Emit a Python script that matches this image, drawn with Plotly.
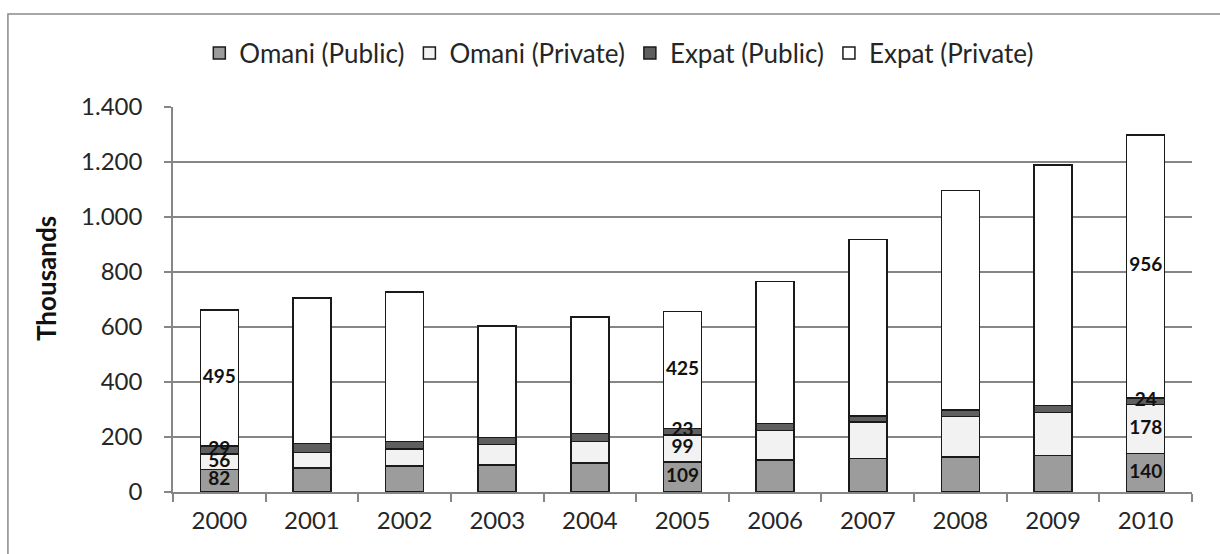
import plotly.graph_objects as go

years = ["2000", "2001", "2002", "2003", "2004", "2005", "2006", "2007", "2008", "2009", "2010"]
omani_public = [82, 87, 95, 98, 106, 109, 116, 122, 128, 133, 140]
omani_private = [56, 57, 62, 75, 78, 99, 108, 133, 146, 156, 178]
expat_public = [29, 32, 27, 25, 28, 23, 26, 21, 24, 26, 24]
expat_private = [495, 529, 544, 405, 425, 425, 515, 642, 799, 875, 956]
labeled_years = ["2000", "2005", "2010"]
y_ticks = [0, 200, 400, 600, 800, 1000, 1200, 1400]
y_tick_labels = ["0", "200", "400", "600", "800", "1.000", "1.200", "1.400"]

series = [
    ("Omani (Public)", omani_public, "#9c9c9c"),
    ("Omani (Private)", omani_private, "#f2f2f2"),
    ("Expat (Public)", expat_public, "#5f5f5f"),
    ("Expat (Private)", expat_private, "#ffffff"),
]

fig = go.Figure()
for name, vals, color in series:
    fig.add_trace(go.Bar(
        x=years, y=vals, name=name,
        marker=dict(color=color, line=dict(color="#1a1a1a", width=1.5)),
    ))

# value labels drawn on top of all bars, centred in their segments
lab_x, lab_y, lab_t = [], [], []
base = [0] * len(years)
for name, vals, color in series:
    for i, (yr, v) in enumerate(zip(years, vals)):
        if yr in labeled_years:
            lab_x.append(yr)
            lab_y.append(base[i] + v / 2)
            lab_t.append(str(v))
        base[i] += v
fig.add_trace(go.Scatter(
    x=lab_x, y=lab_y, text=lab_t, mode="text", showlegend=False,
    textfont=dict(family="Lato", size=19, color="#111111", weight="bold"),
    textposition="middle center", cliponaxis=False, hoverinfo="skip",
))

fig.update_layout(
    barmode="stack",
    bargap=0.59,
    width=1220, height=554,
    margin=dict(l=173, r=28, t=107, b=62),
    paper_bgcolor="white", plot_bgcolor="white",
    font=dict(family="Lato", color="#262626"),
    showlegend=True,
    legend=dict(orientation="h", x=0.438, xanchor="center", y=1.14, yanchor="middle",
                font=dict(size=26, color="#262626"), traceorder="normal",
                itemwidth=30, tracegroupgap=0, bgcolor="rgba(0,0,0,0)"),
    xaxis=dict(
        type="category", range=[-0.5, 10.5], autorange=False,
        tickson="boundaries", ticks="outside", ticklen=8,
        tickcolor="#868686", tickwidth=1.5,
        showline=True, linecolor="#868686", linewidth=1.5,
        tickfont=dict(size=24, color="#262626"), showgrid=False,
        ticklabelstandoff=6, automargin=False,
    ),
    yaxis=dict(
        range=[0, 1400], autorange=False, tickvals=y_ticks, ticktext=y_tick_labels,
        ticks="outside", ticklen=7, tickcolor="#868686", tickwidth=1.5,
        showline=True, linecolor="#868686", linewidth=1.5,
        showgrid=True, gridcolor="#868686", gridwidth=1.5,
        tickfont=dict(size=24, color="#262626"),
        ticklabelstandoff=17, automargin=False,
        zeroline=False,
    ),
    annotations=[dict(text="<b>Thousands</b>", textangle=-90, xref="paper", yref="paper",
                      x=(46 - 173) / 1019, y=(492 - 279) / 385, xanchor="center", yanchor="middle",
                      showarrow=False, font=dict(size=26, color="#111111", family="Lato"))],
    shapes=[dict(type="rect", xref="paper", yref="paper",
                 x0=-0.162, x1=1.3, y0=-0.5, y1=1.2416,
                 line=dict(color="#8a8a8a", width=1.5), fillcolor="rgba(0,0,0,0)", layer="below")],
)

fig.write_html("out.html")
